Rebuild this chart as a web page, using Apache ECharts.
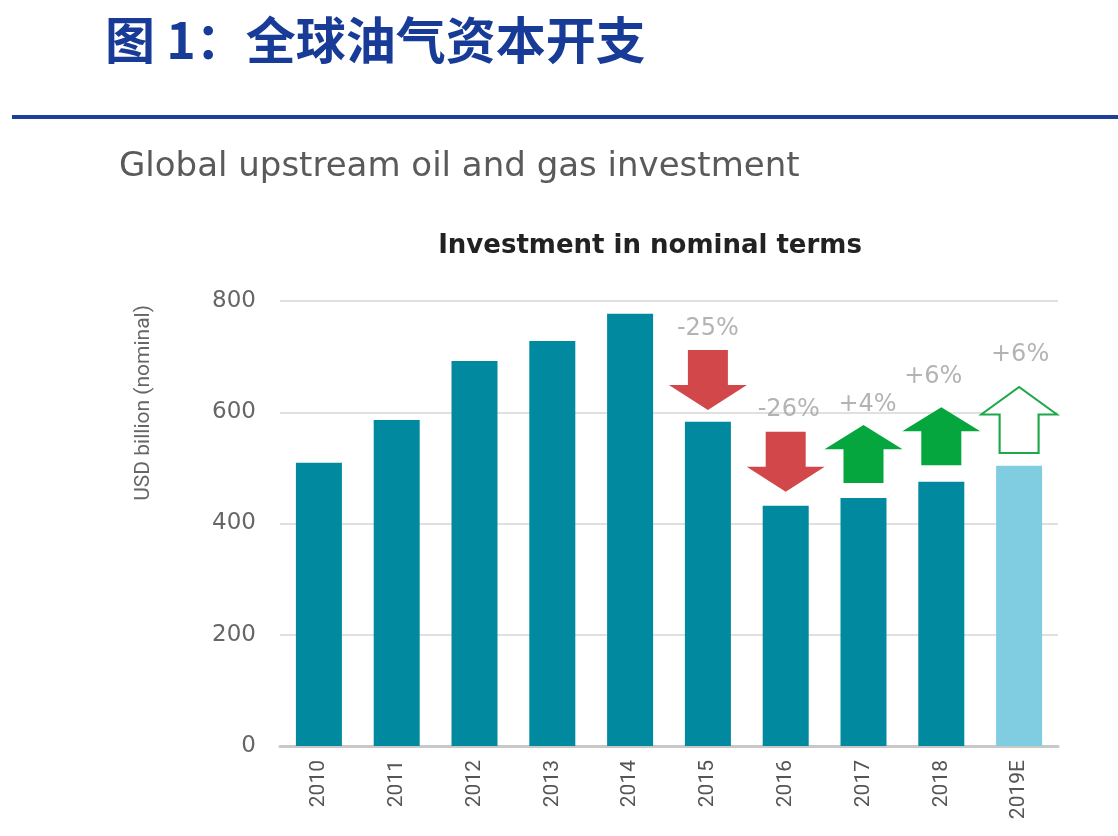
<!DOCTYPE html>
<html lang="zh">
<head>
    <meta charset="UTF-8">
    <title>全球油气资本开支</title>
    <script src="https://cdn.jsdelivr.net/npm/echarts@6/dist/echarts.min.js"></script>
    <style>
        body { margin: 0; background: #fff; }
        #main { width: 1118px; height: 836px; }
    </style>
</head>
<body>
    <div id="main"></div>
    <script>
        // data
        var years = ['2010', '2011', '2012', '2013', '2014', '2015', '2016', '2017', '2018', '2019E'];
        var investment = [509, 586, 692, 728, 777, 583, 432, 446, 475, 504];
        var yTicks = [0, 200, 400, 600, 800];

        // change annotations: year, arrow centre value, label value, text, kind
        var changeYears = ['2015', '2016', '2017', '2018', '2019E'];
        var arrowValues = [658, 511, 525, 557, 586];
        var labelValues = [750, 604, 613, 663, 703];
        var changeTexts = ['-25%', '-26%', '+4%', '+6%', '+6%'];
        var changeKinds = ['down', 'down', 'up', 'up', 'upOutline'];

        var downPath = 'path://M19,0 L59,0 L59,35 L78,35 L39,60 L0,35 L19,35 Z';
        var upPath = 'path://M39,0 L78,25 L59,25 L59,60 L19,60 L19,25 L0,25 Z';
        var labelShift = [0, 3, 4, -8, 1];

        var chart = echarts.init(document.getElementById('main'));

        var barData = investment.map(function (v, i) {
            return {
                value: v,
                itemStyle: { color: years[i] === '2019E' ? '#80CDE1' : '#00899F' }
            };
        });

        var arrowData = changeYears.map(function (y, i) {
            var k = changeKinds[i];
            var style;
            if (k === 'down') style = { color: '#D2474A', opacity: 1 };
            else if (k === 'up') style = { color: '#04A63D', opacity: 1 };
            else style = { color: '#fff', borderColor: '#1FA74A', borderWidth: 2, opacity: 1 };
            return {
                value: [y, arrowValues[i]],
                symbol: k === 'down' ? downPath : upPath,
                symbolSize: k === 'up' ? [78, 58] : (k === 'upOutline' ? [76, 66] : [78, 60]),
                itemStyle: style
            };
        });

        var labelData = changeYears.map(function (y, i) {
            return {
                value: [y, labelValues[i]],
                label: { offset: [labelShift[i], 0] }
            };
        });

        var option = {
            animation: false,
            backgroundColor: '#fff',
            title: {
                text: 'Investment in nominal terms',
                left: 645,
                top: 228,
                textAlign: 'center',
                textStyle: { fontFamily: 'DejaVu Sans', fontWeight: 'bold', fontSize: 26, color: '#222' }
            },
            graphic: [
                {
                    type: 'text', left: 105, top: 15,
                    style: { text: '图 1：全球油气资本开支', fontFamily: 'Noto Sans CJK SC', fontWeight: 'bold', fontSize: 50, fill: '#173B96' }
                },
                {
                    type: 'rect', left: 12, top: 115,
                    shape: { width: 1106, height: 4 },
                    style: { fill: '#1E3E9C' }
                },
                {
                    type: 'text', left: 119, top: 150,
                    style: { text: 'Global upstream oil and gas investment', fontFamily: 'DejaVu Sans', fontSize: 34, fill: '#5a5a5a' }
                },
                {
                    type: 'text', left: 133, top: 305, rotation: Math.PI / 2,
                    style: { text: 'USD billion (nominal)', fontFamily: 'Liberation Sans Narrow, Roboto', fontSize: 21, fill: '#666' }
                }
            ],
            grid: { left: 280, right: 60, top: 301, bottom: 90 },
            xAxis: {
                type: 'category',
                data: years,
                axisLine: { lineStyle: { color: '#c8c8c8', width: 3 } },
                axisTick: { show: false },
                axisLabel: { rotate: 90, margin: 14, fontFamily: 'Liberation Sans Narrow, Roboto', fontSize: 21, color: '#555' }
            },
            yAxis: {
                type: 'value',
                min: 0,
                max: 800,
                interval: 200,
                axisLine: { show: false },
                axisTick: { show: false },
                axisLabel: {
                    margin: 24, fontFamily: 'DejaVu Sans', fontSize: 23, color: '#666',
                    formatter: function (v) { return yTicks.indexOf(v) >= 0 ? String(v) : ''; }
                },
                splitLine: { lineStyle: { color: '#e0e0e0', width: 2 } }
            },
            series: [
                {
                    type: 'bar',
                    data: barData,
                    barWidth: 46
                },
                {
                    type: 'scatter',
                    data: arrowData,
                    z: 5
                },
                {
                    type: 'scatter',
                    data: labelData,
                    symbolSize: 0,
                    z: 6,
                    label: {
                        show: true,
                        position: 'inside',
                        fontFamily: 'DejaVu Sans',
                        fontSize: 24,
                        color: '#a0a0a0',
                        formatter: function (p) { return changeTexts[p.dataIndex]; }
                    }
                }
            ]
        };

        chart.setOption(option);
    </script>
</body>
</html>
